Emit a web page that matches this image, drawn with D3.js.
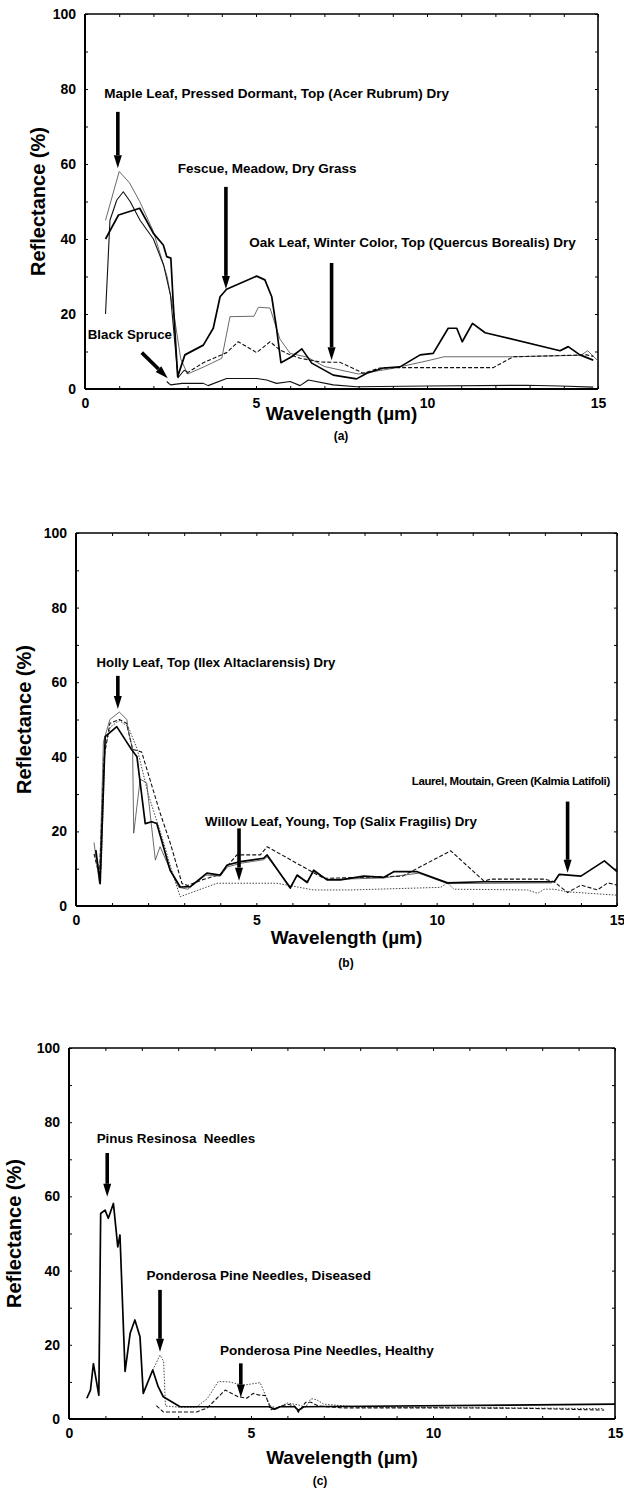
<!DOCTYPE html>
<html><head><meta charset="utf-8">
<script src="https://cdn.jsdelivr.net/npm/d3@7"></script>
<style>
html,body{margin:0;padding:0;background:#fff;}
svg text{font-family:"Liberation Sans",Arial,Helvetica,sans-serif;font-weight:bold;fill:#000;white-space:pre;}
</style></head>
<body>
<svg id="chart" width="624" height="1496"></svg>
<script>
// ---------- shared tick labels ----------
const yTickLabels = [0, 20, 40, 60, 80, 100];
const yMinorTicks = [0,10,20,30,40,50,60,70,80,90,100];
const xTickLabels = [0, 5, 10, 15];
const xMinorTicks = [0,1,2,3,4,5,6,7,8,9,10,11,12,13,14,15];

// ---------- panel (a) data: [wavelength µm, reflectance %] ----------
const aFescue = [[0.6,40],[0.98,46.4],[1.6,48.2],[2.0,41.5],[2.29,38.4],[2.39,35.3],[2.51,34.9],[2.58,22.9],[2.71,3.3],[2.92,9.1],[3.46,11.7],[3.75,16.2],[3.95,24.6],[4.14,26.6],[5.02,30.1],[5.26,29.1],[5.46,24.6],[5.6,16.2],[5.73,7.0],[6.04,8.6],[6.34,10.7],[6.63,6.9],[7.26,3.7],[7.94,2.7],[8.24,4.2],[8.72,5.6],[9.21,5.9],[9.8,9.1],[10.18,9.5],[10.62,16.2],[10.87,16.2],[11.03,12.6],[11.33,17.5],[11.7,15.0],[13.89,10.2],[14.13,11.3],[14.47,9.1],[14.86,7.7]];
const aMaple = [[0.6,45],[1.0,58],[1.3,55],[1.6,50],[2.0,42],[2.4,30],[2.6,20],[2.8,8],[3.0,4],[3.5,6],[4.0,8.2],[4.24,19.3],[4.94,19.4],[5.07,21.8],[5.41,21.6],[5.7,13.3],[6.0,9.5],[6.5,8.5],[7.0,6],[8.0,4],[9.0,5.5],[10.0,7.5],[10.5,8.6],[12.5,8.6],[14.5,9.0],[14.7,10.2],[15,7.5]];
const aMapleB = [[0.6,20],[0.73,45],[0.93,50.4],[1.12,52.6],[1.32,50],[1.61,45],[2.0,40],[2.3,33],[2.5,25],[2.65,10],[2.72,3],[2.9,5],[3.0,4.5]];
const aOak = [[2.97,4.2],[3.46,7.0],[4.14,9.7],[4.48,12.6],[5.02,9.7],[5.41,12.6],[5.7,10.4],[6.0,9.1],[6.29,8.2],[6.88,7.2],[7.46,7.1],[8.14,4.2],[8.62,5.6],[9.21,5.7],[11.94,5.7],[12.52,8.6],[14.67,9.1],[14.86,8.7]];
const aSpruce = [[2.39,2.0],[2.5,1.1],[2.84,1.5],[3.46,1.5],[3.6,0.9],[4.14,2.8],[5.02,2.8],[5.31,2.4],[5.6,1.5],[6.0,2.0],[6.29,0.9],[6.53,2.4],[7.26,1.1],[7.94,0.6],[10.0,0.8],[12.9,1.0],[13.9,0.8],[14.86,0.5]];

// ---------- panel (b) data ----------
const bHolly = [[0.5,17],[0.65,6],[0.76,44],[0.94,50],[1.2,52],[1.41,50],[1.45,47],[1.57,42],[1.6,19.5],[1.78,34],[1.96,33],[2.2,12.3],[2.33,15.9],[2.6,10],[2.85,5],[3.1,4.5],[3.6,8.3],[4.0,8.0],[4.2,10.5],[4.6,11.5],[5.2,12.4],[5.3,13.2],[5.94,5.2],[6.13,8.0],[6.41,6.6],[6.59,9.2],[6.96,7.2],[7.33,7.2],[8.5,7.5],[9.5,8.8],[10.3,6.0],[13.2,6.2]];
const bLaurel = [[0.55,15],[0.67,6],[0.81,45.4],[1.13,48.1],[1.55,41.8],[1.69,40],[1.92,22.1],[2.1,22.6],[2.24,22.1],[2.61,9.6],[2.89,5.1],[3.17,5.2],[3.63,8.8],[4.0,8.3],[4.19,11],[4.56,11.9],[5.2,12.8],[5.3,13.7],[5.94,4.8],[6.13,8.3],[6.41,6.3],[6.59,9.6],[6.96,7.0],[7.33,7.0],[7.98,8.0],[8.54,7.7],[8.81,9.2],[9.46,9.2],[10.3,6.2],[11.31,6.5],[13.26,6.5],[13.4,8.5],[14.0,8.0],[14.65,12.1],[15,9.2]];
const bDashed = [[0.5,14],[0.65,8],[0.78,40],[0.94,49],[1.2,50],[1.4,49],[1.57,42],[1.82,41.3],[2.33,25],[2.61,17],[2.94,6],[3.1,5.5],[3.5,7],[4.0,8.5],[4.46,13.7],[5.11,13.7],[5.3,15.9],[6.87,7.4],[7.61,7.6],[9.05,8.0],[10.39,14.8],[11.31,6.7],[11.5,7.2],[12.98,7.2],[13.26,6.5],[13.63,3.6],[14.0,5.6],[14.46,4.3],[14.74,6.2],[15,5.6]];
const bWillow = [[0.55,12],[0.7,10],[0.8,42],[0.95,48],[1.2,49.7],[1.45,48],[1.7,42],[2.0,30],[2.4,18],[2.7,8],[2.89,2.5],[3.91,6.1],[5.57,6.1],[6.59,4.3],[7.61,4.3],[10.11,5.0],[10.3,6.2],[10.48,4.5],[12.52,4.3],[12.8,3.4],[12.98,4.5],[13.26,4.5],[13.63,3.8],[15,2.9]];

// ---------- panel (c) data ----------
const cPinus = [[0.49,5.6],[0.59,7.8],[0.67,14.9],[0.82,6.4],[0.87,55.4],[0.99,56.3],[1.08,54.1],[1.22,58.1],[1.34,46.4],[1.4,49.6],[1.54,12.8],[1.68,23.1],[1.81,26.7],[1.95,22.2],[2.04,6.9],[2.3,13.2],[2.45,8.7],[2.59,6.0],[3.05,3.3],[5.5,3.3],[5.65,2.6],[5.8,3.3],[6.2,3.3],[6.3,2.3],[6.45,3.3],[15,4.0]];
const cDiseased = [[2.3,13.2],[2.5,17.2],[2.6,15.5],[2.65,3.5],[3.0,3.2],[3.5,3.2],[3.8,5.5],[4.1,10.1],[4.4,10.0],[4.79,9.1],[5.25,9.8],[5.52,3.6],[5.7,3.0],[6.0,4.3],[6.3,3.8],[6.5,3.2],[6.65,5.5],[6.8,5.2],[7.0,4.0],[8.0,3.2],[12,3.0],[14.7,2.8]];
const cHealthy = [[2.4,3.6],[2.59,1.9],[3.51,1.9],[3.8,3.0],[4.29,7.8],[4.65,6.0],[4.88,5.6],[5.06,6.9],[5.2,6.5],[5.4,6.3],[5.55,2.5],[5.7,3.0],[6.0,4.0],[6.2,3.5],[6.3,1.8],[6.5,4.5],[6.65,4.5],[6.85,3.5],[7.5,3.0],[10,3.0],[12.5,2.9],[14.7,2.4]];

// ---------- styles ----------
const styles = {
  thick:  {w:1.7, c:"#000", dash:null},
  thin:   {w:0.8, c:"#444", dash:null},
  medium: {w:1.1, c:"#111", dash:null},
  dashed: {w:1.1, c:"#111", dash:"4,2"},
  dotted: {w:0.9, c:"#333", dash:"1.5,1.5"}
};

const panels = [
  { box:{l:85,r:598,t:14,b:389}, ylabX:38, xlabY:413, capX:341, capY:436, cap:"(a)",
    series:[[aMaple,"thin"],[aMapleB,"medium"],[aOak,"dashed"],[aSpruce,"medium"],[aFescue,"thick"]],
    labels:[{t:"Maple Leaf, Pressed Dormant, Top (Acer Rubrum) Dry",x:0.56,y:78.9,fs:13.5},
            {t:"Fescue, Meadow, Dry Grass",x:2.71,y:58.9,fs:13.5},
            {t:"Oak Leaf, Winter Color, Top (Quercus Borealis) Dry",x:4.80,y:39.0,fs:13.5},
            {t:"Black Spruce",x:0.08,y:14.7,fs:13.3}],
    arrows:[{x1:0.96,y1:73.9,x2:0.96,y2:58.9},{x1:4.12,y1:53.9,x2:4.12,y2:26.7},
            {x1:7.21,y1:33.6,x2:7.21,y2:7.7},{x1:1.66,y1:9.7,x2:2.42,y2:2.9}] },
  { box:{l:76,r:617,t:533,b:906}, ylabX:24, xlabY:937, capX:346, capY:963, cap:"(b)",
    series:[[bWillow,"dotted"],[bDashed,"dashed"],[bHolly,"thin"],[bLaurel,"thick"]],
    labels:[{t:"Holly Leaf, Top (Ilex Altaclarensis) Dry",x:0.57,y:65.2,fs:13.2},
            {t:"Laurel, Moutain, Green (Kalmia Latifoli)",x:9.31,y:33.6,fs:11.5,ls:-0.4},
            {t:"Willow Leaf, Young, Top (Salix Fragilis) Dry",x:3.58,y:22.8,fs:13.3}],
    arrows:[{x1:1.16,y1:61.7,x2:1.16,y2:52.8},{x1:13.63,y1:28.0,x2:13.63,y2:8.9},
            {x1:4.52,y1:20.8,x2:4.52,y2:6.8}] },
  { box:{l:69,r:615,t:1048,b:1419}, ylabX:14, xlabY:1457, capX:320, capY:1481, cap:"(c)",
    series:[[cDiseased,"dotted"],[cHealthy,"dashed"],[cPinus,"thick"]],
    labels:[{t:"Pinus Resinosa  Needles",x:0.76,y:75.7,fs:13.4},
            {t:"Ponderosa Pine Needles, Diseased",x:2.13,y:38.8,fs:13.5},
            {t:"Ponderosa Pine Needles, Healthy",x:4.15,y:18.6,fs:13.5}],
    arrows:[{x1:1.05,y1:71.7,x2:1.05,y2:59.9},{x1:2.5,y1:34.8,x2:2.5,y2:18.1},
            {x1:4.72,y1:15.0,x2:4.72,y2:5.8}] }
];

const svg = d3.select("#chart");

panels.forEach(p => {
  const B = p.box;
  const x = d3.scaleLinear().domain([0,15]).range([B.l,B.r]);
  const y = d3.scaleLinear().domain([0,100]).range([B.b,B.t]);
  const g = svg.append("g");

  // inward ticks using d3 axes
  const tk = 3;
  g.append("g").attr("transform",`translate(0,${B.b})`)
    .call(d3.axisTop(x).tickValues(xMinorTicks).tickSize(tk).tickFormat(""))
    .call(s=>s.select(".domain").remove());
  g.append("g").attr("transform",`translate(0,${B.t})`)
    .call(d3.axisBottom(x).tickValues(xMinorTicks).tickSize(tk).tickFormat(""))
    .call(s=>s.select(".domain").remove());
  g.append("g").attr("transform",`translate(${B.l},0)`)
    .call(d3.axisRight(y).tickValues(yMinorTicks).tickSize(tk).tickFormat(""))
    .call(s=>s.select(".domain").remove());
  g.append("g").attr("transform",`translate(${B.r},0)`)
    .call(d3.axisLeft(y).tickValues(yMinorTicks).tickSize(tk).tickFormat(""))
    .call(s=>s.select(".domain").remove());
  g.selectAll(".tick line").attr("stroke","#000").attr("stroke-width",1);

  // tick labels
  const yl = g.append("g").attr("transform",`translate(${B.l},0)`)
    .call(d3.axisLeft(y).tickValues(yTickLabels).tickSize(0).tickPadding(9).tickFormat(d3.format("d")));
  yl.select(".domain").remove();
  yl.selectAll("text").attr("font-size",14).attr("font-family","Liberation Sans, Arial, sans-serif").attr("font-weight","bold");
  const xl = g.append("g").attr("transform",`translate(0,${B.b})`)
    .call(d3.axisBottom(x).tickValues(xTickLabels).tickSize(0).tickPadding(9).tickFormat(d3.format("d")));
  xl.select(".domain").remove();
  xl.selectAll("text").attr("font-size",14).attr("font-family","Liberation Sans, Arial, sans-serif").attr("font-weight","bold");

  // frame
  g.append("line").attr("x1",B.l).attr("x2",B.r).attr("y1",B.t).attr("y2",B.t).attr("stroke","#000").attr("stroke-width",1.3);
  g.append("line").attr("x1",B.r).attr("x2",B.r).attr("y1",B.t).attr("y2",B.b).attr("stroke","#000").attr("stroke-width",1.6);
  g.append("line").attr("x1",B.l).attr("x2",B.r).attr("y1",B.b).attr("y2",B.b).attr("stroke","#000").attr("stroke-width",2);
  g.append("line").attr("x1",B.l).attr("x2",B.l).attr("y1",B.t).attr("y2",B.b).attr("stroke","#000").attr("stroke-width",2);

  // series
  const line = d3.line().x(d=>x(d[0])).y(d=>y(d[1]));
  p.series.forEach(([data,st]) => {
    const s = styles[st];
    g.append("path").datum(data).attr("d",line).attr("fill","none")
      .attr("stroke",s.c).attr("stroke-width",s.w).attr("stroke-linejoin","round")
      .attr("stroke-dasharray",s.dash);
  });

  // annotation labels
  p.labels.forEach(l => {
    const t = g.append("text").attr("x",x(l.x)).attr("y",y(l.y)).attr("dy","0.35em")
      .attr("font-size",l.fs).text(l.t);
    if (l.ls) t.attr("letter-spacing",l.ls);
  });

  // arrows
  p.arrows.forEach(a => {
    const x1=x(a.x1), y1=y(a.y1), x2=x(a.x2), y2=y(a.y2);
    const ang = Math.atan2(y2-y1, x2-x1);
    const hl = 13, hw = 4;
    const bx = x2 - hl*Math.cos(ang), by = y2 - hl*Math.sin(ang);
    g.append("line").attr("x1",x1).attr("y1",y1).attr("x2",bx).attr("y2",by)
      .attr("stroke","#000").attr("stroke-width",3.6);
    const px = -Math.sin(ang)*hw, py = Math.cos(ang)*hw;
    g.append("path").attr("d",`M${x2},${y2}L${bx+px},${by+py}L${bx-px},${by-py}Z`).attr("fill","#000");
  });

  // axis titles
  g.append("text").attr("x",(B.l+B.r)/2).attr("y",p.xlabY).attr("text-anchor","middle")
    .attr("dy","0.35em").attr("font-size",19).text("Wavelength (µm)");
  g.append("text").attr("transform",`translate(${p.ylabX},${(B.t+B.b)/2}) rotate(-90)`)
    .attr("text-anchor","middle").attr("dy","0.35em").attr("font-size",20).text("Reflectance (%)");
  g.append("text").attr("x",p.capX).attr("y",p.capY).attr("text-anchor","middle").attr("dy","0.35em")
    .attr("font-size",12).attr("font-weight","normal").text(p.cap);
});
</script>
</body></html>
